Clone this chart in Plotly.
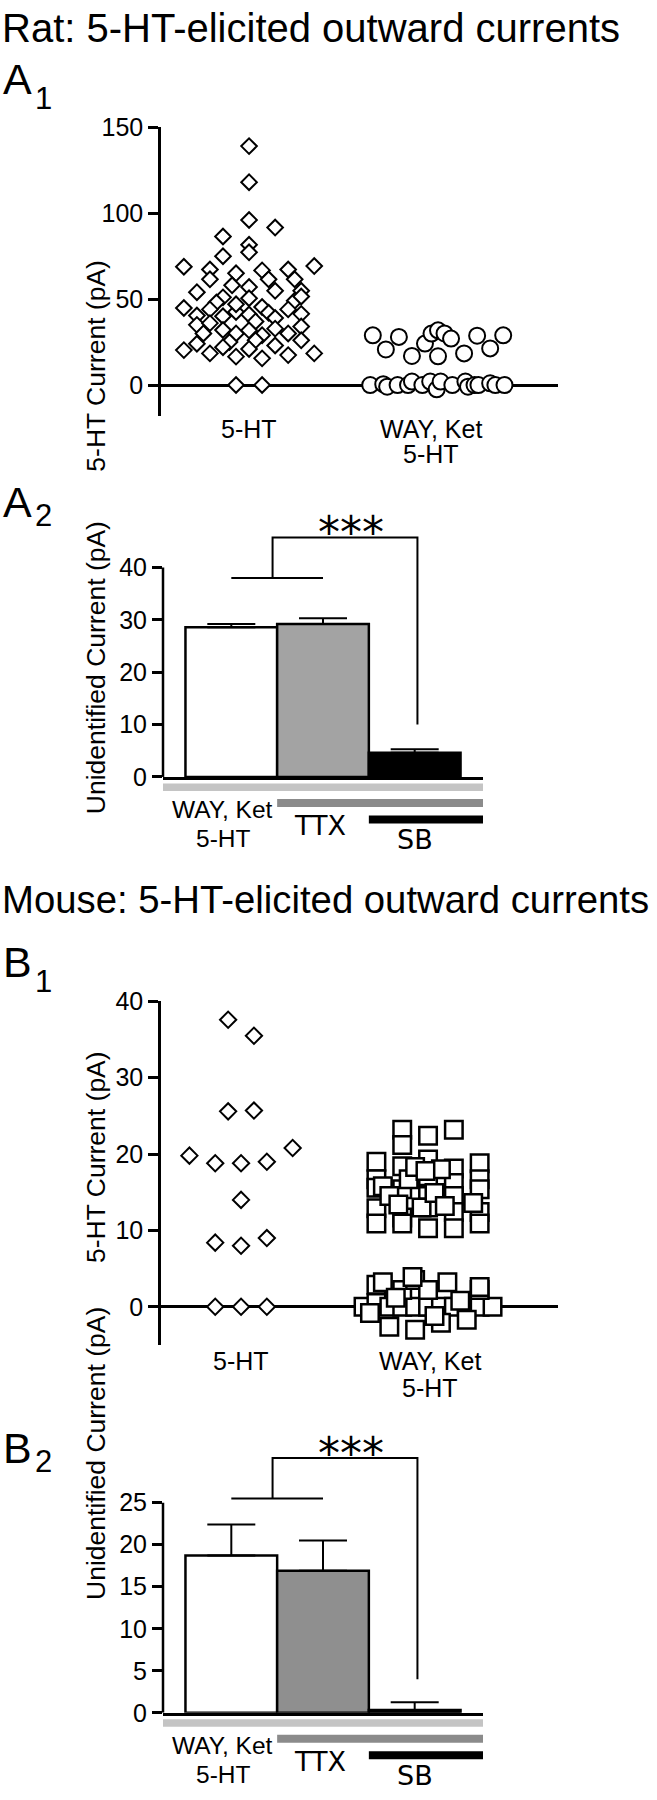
import plotly.graph_objects as go

W, H = 657, 1800
FONT = "Liberation Sans, Arial, Helvetica, sans-serif"
ALT_FONT = "DejaVu Sans, Verdana, sans-serif"

# ---------------- data ----------------
# jitter column (in marker steps) and current (pA) for every cell
JIT = 0.069

# A1  rat, 5-HT alone
rat_5ht_col = [0, 0, 0, 2, -2, 0, 0, -2,
               -5, 5, -3, -1, 1, 3,
               -3, 1.5, 3.5, -1.3, 0, 2, 4, -4, -2, 0, -2.5, 3.5, 4,
               -5, -4, -3, -2, -1, 0, 1, 1.5, 3, 4, -1, 2, 0.5,
               -4, -3.5, -2, -1, 0, 1, 2, 4, -3, 3, -1.5, 0.5,
               -5, -4, -3, -2, -1, 0, 1, 2, 3, 4, 5,
               -1, 1]
rat_5ht_val = [139, 118, 96, 91.6, 86.4, 81.6, 77.2, 74.9,
               68.8, 69.2, 67.2, 65, 66.7, 67.2,
               61.5, 61.5, 61.5, 58, 57, 54.8, 54.8, 54, 51, 50.5, 48, 49, 51.5,
               44.8, 40.4, 44, 40, 42.5, 41, 45.4, 42, 44, 41.4, 47, 39, 37,
               35, 30, 32, 30, 31.8, 29, 32.8, 34, 36, 30, 25, 26,
               20.3, 24, 18.4, 22, 16.5, 21, 15.5, 23, 17.4, 26, 18.4,
               0, 0]

# A1  rat, WAY + ketanserin + 5-HT
rat_way_col = [-5, -4, -3, -2, -1, -0.5, 0, 0, 0.5, 1, 2, 3, 4, 5,
               -5.2, -4.2, -3.9, -3.1, -2.3, -2.0, -1.2, -0.6, -0.1, 0.2,
               1.1, 2.1, 2.3, 2.8, 3.1, 4.0, 4.4, 5.1]
rat_way_val = [28.9, 20.7, 28, 16.9, 24.1, 29.9, 31.8, 16.7, 30, 27, 18.4, 28.7, 21.3, 28.9,
               0, 0.5, -1, 0, 0, 2, 0, 2, -2.5, 2,
               0, 2, -1, 0, 0, 1, 0, 0]

# B1  mouse, 5-HT alone
mouse_5ht_col = [-1, 1, -1, 1, -4, -2, 0, 2, 4, 0, -2, 0, 2, -2, 0, 2]
mouse_5ht_val = [37.6, 35.5, 25.6, 25.7, 19.8, 18.8, 18.8, 19.0, 20.8, 14.0,
                 8.4, 8.0, 9.0, 0, 0, 0]

# B1  mouse, WAY + ketanserin + 5-HT
mouse_way_col = [-4, -4, -4, -4, -4,
                 -2, -2, -2, -2, -2, -2,
                 0, 0, 0, 0, 0, 0,
                 2, 2, 2, 2, 2, 2,
                 4, 4, 4, 4, 4,
                 3.5, -0.5, 1, -3.5, -1.5, -3, 0.5, -2.3, 1.3, -1, -0.2,
                 -5, -4, -3, -2, -1, 0, 1, 2, 3, 4, 5,
                 -4, -2, -1, 0, 1.5, 4, -3.5, -1.2, 4,
                 -3, -1, 1, 3, -4.5, 2.5, -2.5, 0.5]
mouse_way_val = [19.0, 16.7, 15.6, 12.9, 10.9,
                 23.2, 21.2, 18.4, 15.4, 11.7, 10.9,
                 22.4, 19.3, 17.1, 14.5, 13.0, 10.3,
                 23.2, 18.1, 16.2, 14.5, 12.4, 10.3,
                 18.8, 16.7, 15.4, 12.4, 10.9,
                 13.6, 13.0, 18.0, 15.8, 16.7, 14.5, 14.9, 13.4, 13.2, 18.3, 17.8,
                 0, 0.5, 0, 0, 0, 0, 0, 0, 0, 0, 0,
                 2.9, 2.2, 3.5, 2.2, 3.2, 2.2, 3.2, 3.9, 2.6,
                 -2.6, -3, -2.1, -1.7, -0.8, 0.8, 1.2, -1.2]

# A2 / B2  unidentified current, mean and SEM
bar_pos = [0, 1, 2]
rat_bar_mean = [28.6, 29.2, 4.6]
rat_bar_sem = [0.6, 1.1, 0.7]
mouse_bar_mean = [18.7, 16.9, 0.35]
mouse_bar_sem = [3.7, 3.6, 0.9]

# significance brackets: low bar, top bar, end of drop line (pA)
rat_bracket = [38.0, 45.7, 10.0]
mouse_bracket = [25.5, 30.3, 4.0]

# ---------------- helpers ----------------
def dom(top_px, bottom_px):
    return [1 - bottom_px / H, 1 - top_px / H]


def jitter(center, cols):
    return [center + c * JIT for c in cols]


fig = go.Figure()

mk_line = dict(color="black", width=2)

fig.add_trace(go.Scatter(x=jitter(1, rat_5ht_col), y=rat_5ht_val, mode="markers",
                         marker=dict(symbol="diamond", size=12, color="white", line=mk_line),
                         xaxis="x", yaxis="y"))
fig.add_trace(go.Scatter(x=jitter(2, rat_way_col), y=rat_way_val, mode="markers",
                         marker=dict(symbol="circle", size=16, color="white", line=mk_line),
                         xaxis="x", yaxis="y"))
fig.add_trace(go.Scatter(x=jitter(1, mouse_5ht_col), y=mouse_5ht_val, mode="markers",
                         marker=dict(symbol="diamond", size=12.5, color="white", line=mk_line),
                         xaxis="x3", yaxis="y3"))
fig.add_trace(go.Scatter(x=jitter(2, mouse_way_col), y=mouse_way_val, mode="markers",
                         marker=dict(symbol="square", size=17.5, color="white",
                                     line=dict(color="black", width=2.5)),
                         xaxis="x3", yaxis="y3"))


def bar_panel(xa, ya, mean, sem, gray, bracket):
    fig.add_trace(go.Bar(x=bar_pos, y=mean, width=1,
                         marker=dict(color=["white", gray, "black"],
                                     line=dict(color="black", width=2.5)),
                         error_y=dict(type="data", array=sem, arrayminus=[0, 0, 0],
                                      symmetric=False, color="black", thickness=2, width=24),
                         xaxis=xa, yaxis=ya))
    low, top, end = bracket
    fig.add_trace(go.Scatter(x=[0, 1], y=[low, low], mode="lines",
                             line=dict(color="black", width=2), xaxis=xa, yaxis=ya))
    fig.add_trace(go.Scatter(x=[0.45, 0.45, 2.03, 2.03], y=[low, top, top, end], mode="lines",
                             line=dict(color="black", width=2), xaxis=xa, yaxis=ya))


bar_panel("x2", "y2", rat_bar_mean, rat_bar_sem, "#a3a3a3", rat_bracket)
bar_panel("x4", "y4", mouse_bar_mean, mouse_bar_sem, "#8f8f8f", mouse_bracket)

# ---------------- axes ----------------
tickfont = dict(family=FONT, size=25, color="black")
yax = dict(showgrid=False, linecolor="black", linewidth=2.5, ticks="outside", ticklen=10,
           tickwidth=2.5, tickcolor="black", tickfont=tickfont)
xdom_scatter = [161 / W, 558 / W]
xdom_bar = [163 / W, 483 / W]

fig.update_layout(
    width=W, height=H, margin=dict(l=0, r=0, t=0, b=0),
    paper_bgcolor="white", plot_bgcolor="white", showlegend=False,
    xaxis=dict(domain=xdom_scatter, range=[0.534, 2.635], anchor="y", visible=False),
    yaxis=dict(domain=dom(115, 408.3), range=[-18, 150], tickvals=[0, 50, 100, 150],
               showline=True, zeroline=True, zerolinecolor="black", zerolinewidth=2.5,
               anchor="x", **yax),
    xaxis2=dict(domain=xdom_bar, range=[-0.745, 2.745], anchor="y2", showgrid=False,
                zeroline=False, showline=True, linecolor="black", linewidth=2.5,
                showticklabels=False, ticks=""),
    yaxis2=dict(domain=dom(527.6, 775), range=[0, 46.5], tickvals=[0, 10, 20, 30, 40],
                showline=False, zeroline=False, anchor="x2", **yax),
    xaxis3=dict(domain=xdom_scatter, range=[0.572, 2.695], anchor="y3", visible=False),
    yaxis3=dict(domain=dom(1003, 1352), range=[-5, 40], tickvals=[0, 10, 20, 30, 40],
                showline=True, zeroline=True, zerolinecolor="black", zerolinewidth=2.5,
                anchor="x3", **yax),
    xaxis4=dict(domain=xdom_bar, range=[-0.745, 2.745], anchor="y4", showgrid=False,
                zeroline=False, showline=True, linecolor="black", linewidth=2.5,
                showticklabels=False, ticks=""),
    yaxis4=dict(domain=dom(1448.1, 1725.7), range=[0, 32.5], tickvals=[0, 5, 10, 15, 20, 25],
                showline=False, zeroline=False, anchor="x4", **yax),
)

# y-axis lines of the bar panels stop at the top tick
for xa, ya, ytop in [("x2", "y2", 40), ("x4", "y4", 25)]:
    fig.add_shape(type="line", xref=xa + " domain", yref=ya, x0=0, x1=0, y0=0, y1=ytop,
                  line=dict(color="black", width=2.5))
    # drug application bars under the x axis
    for x0, (p0, p1), col in [(-0.745, (6.5, 14), "#c4c4c4"),
                              (0.5, (22, 30), "#8b8b8b"),
                              (1.5, (38.5, 46.5), "black")]:
        fig.add_shape(type="rect", xref=xa, yref=ya + " domain", ysizemode="pixel", yanchor=0,
                      x0=x0, x1=2.745, y0=-p0, y1=-p1, line=dict(width=0), fillcolor=col)

# ---------------- text ----------------
def txt(text, x, y, size, xref="paper", yref="paper", font=FONT, **kw):
    fig.add_annotation(text=text, x=x, y=y, xref=xref, yref=yref, showarrow=False,
                       font=dict(family=font, size=size, color="black"), **kw)


txt("Rat: 5-HT-elicited outward currents", 0, 1 - 14 / H, 40, xanchor="left", yanchor="middle")
txt("Mouse: 5-HT-elicited outward currents", 0, 1 - 899.5 / H, 38.3, xanchor="left", yanchor="middle")

for letter, sub, ytop, drop in [("A", "1", 66, 20), ("A", "2", 496, 13),
                                ("B", "1", 962.5, 20), ("B", "2", 1457, 13)]:
    txt(letter, 1 / W, 1 - ytop / H, 43, xanchor="left", yanchor="middle")
    txt(sub, 33 / W, 1 - (ytop + drop) / H, 31, xanchor="left", yanchor="middle")

txt("5-HT Current (pA)", 79 / W, 1 - 247.5 / H, 26.5, textangle=-90)
txt("Unidentified Current (pA)", 79 / W, 1 - 664.5 / H, 26.5, textangle=-90)
txt("5-HT Current (pA)", 79 / W, 1 - 1161 / H, 26.5, textangle=-90)
txt("Unidentified Current (pA)", 79 / W, 1 - 1613.5 / H, 26.5, textangle=-90)

# category labels of the scatter panels
for xa, ya, s1, s2, dx in [("x", "y", 13, 38, -7), ("x3", "y3", 16, 43, 2)]:
    txt("5-HT", 1, 0, 25, xref=xa, yref=ya + " domain", yanchor="middle", yshift=-s1)
    txt("WAY, Ket", 2, 0, 25, xref=xa, yref=ya + " domain", yanchor="middle", yshift=-s1, xshift=dx)
    txt("5-HT", 2, 0, 25, xref=xa, yref=ya + " domain", yanchor="middle", yshift=-s2, xshift=dx)

# labels under the bar panels and significance stars
for xa, ya, br in [("x2", "y2", rat_bracket), ("x4", "y4", mouse_bracket)]:
    txt("WAY, Ket", -0.1, 0, 24.5, xref=xa, yref=ya + " domain", yanchor="middle", yshift=-33)
    txt("5-HT", -0.09, 0, 24.5, xref=xa, yref=ya + " domain", yanchor="middle", yshift=-61.5)
    txt("TTX", 0.97, 0, 27, xref=xa, yref=ya + " domain", font=ALT_FONT, yanchor="middle", yshift=-48.5)
    txt("SB", 2.0, 0, 27, xref=xa, yref=ya + " domain", font=ALT_FONT, yanchor="middle", yshift=-63)
    txt("***", 1.3, br[1], 44, xref=xa, yref=ya, font=ALT_FONT, yanchor="middle", yshift=5)

# the page body keeps its default 8px margin otherwise
fig.write_html("out.html", config={"displayModeBar": False},
               post_script="document.body.style.margin='0px';")
